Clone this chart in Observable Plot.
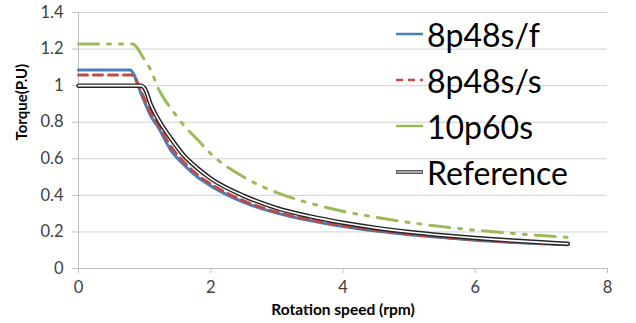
<!DOCTYPE html>
<html>
<head>
<meta charset="utf-8">
<script src="https://cdn.jsdelivr.net/npm/d3@7"></script>
<script src="https://cdn.jsdelivr.net/npm/@observablehq/plot@0.6"></script>
<style>
  body { margin: 0; background: #fff; font-family: Lato, "Open Sans", sans-serif; }
  #wrap { position: relative; width: 636px; height: 323px; }
  #legend { position: absolute; left: 396px; top: 11px; font-family: Lato, sans-serif; font-size: 32px; color: #000; }
  #legend .row { display: flex; align-items: center; height: 46px; }
  #legend svg { margin-right: 3px; }
</style>
</head>
<body>
<div id="wrap">
  <div id="chart"></div>
  <div id="legend"></div>
</div>
<script>
// Speeds (rpm) sampled along the curves
const speedF = [0, 0.78, 0.84, 0.9, 1.0, 1.1, 1.2, 1.4, 1.6, 1.8, 2.0, 2.5, 3.0, 3.5, 4.0, 4.5, 5.0, 5.5, 6.0, 6.5, 7.0, 7.4];
const torque8p48sF = [1.086, 1.086, 1.06, 1.0, 0.91, 0.83, 0.775, 0.645, 0.565, 0.5, 0.452, 0.362, 0.303, 0.262, 0.23, 0.205, 0.185, 0.169, 0.155, 0.144, 0.135, 0.13];

const speedS = [0, 0.8, 0.86, 0.92, 1.0, 1.1, 1.2, 1.4, 1.6, 1.8, 2.0, 2.5, 3.0, 3.5, 4.0, 4.5, 5.0, 5.5, 6.0, 6.5, 7.0, 7.4];
const torque8p48sS = [1.058, 1.058, 1.04, 0.99, 0.925, 0.845, 0.79, 0.665, 0.58, 0.512, 0.462, 0.37, 0.308, 0.266, 0.234, 0.208, 0.188, 0.171, 0.157, 0.146, 0.137, 0.131];

const speed10p = [0, 0.82, 0.88, 0.95, 1.0, 1.1, 1.2, 1.3, 1.4, 1.6, 1.8, 2.0, 2.5, 3.0, 3.5, 4.0, 4.5, 5.0, 5.5, 6.0, 6.5, 7.0, 7.4];
const torque10p60s = [1.228, 1.228, 1.21, 1.17, 1.14, 1.08, 0.99, 0.925, 0.875, 0.78, 0.705, 0.628, 0.5, 0.415, 0.357, 0.313, 0.28, 0.252, 0.229, 0.21, 0.194, 0.18, 0.17];

const speedRef = [0, 0.95, 1.0, 1.1, 1.2, 1.4, 1.6, 1.8, 2.0, 2.5, 3.0, 3.5, 4.0, 4.5, 5.0, 5.5, 6.0, 6.5, 7.0, 7.4];
const torqueRef = [1.0, 1.0, 0.985, 0.89, 0.82, 0.71, 0.615, 0.548, 0.492, 0.397, 0.33, 0.285, 0.25, 0.222, 0.2, 0.182, 0.167, 0.154, 0.143, 0.135];

const yTicks = [0, 0.2, 0.4, 0.6, 0.8, 1, 1.2, 1.4];
const xTicks = [0, 2, 4, 6, 8];
const seriesNames = ["8p48s/f", "8p48s/s", "10p60s", "Reference"];

const toRows = (xs, ys) => xs.map((x, i) => ({x, y: ys[i]}));
const dF = toRows(speedF, torque8p48sF);
const dS = toRows(speedS, torque8p48sS);
const dG = toRows(speed10p, torque10p60s);
const dR = toRows(speedRef, torqueRef);

const blue = "#4a7ebb", red = "#be4b48", green = "#9bbb59";

const chart = Plot.plot({
  width: 636,
  height: 323,
  marginLeft: 78,
  marginRight: 29,
  marginTop: 12,
  marginBottom: 55,
  style: { fontFamily: "Lato, sans-serif", fontSize: "16px", color: "#404040", background: "#fff" },
  x: { domain: [0, 8] },
  y: { domain: [0, 1.4] },
  marks: [
    Plot.gridY(yTicks, { stroke: "#d0d0d0", strokeOpacity: 1 }),
    Plot.ruleX([0], { stroke: "#bfbfbf" }),
    Plot.ruleY([0], { stroke: "#bfbfbf" }),
    Plot.axisY(yTicks, { tickSize: 6, tickPadding: 9, stroke: "#bfbfbf", fill: "#404040", fontSize: 16.5, tickFormat: d => String(+d.toFixed(1)), label: null }),
    Plot.axisX(xTicks, { tickSize: 5, tickPadding: 8, stroke: "#bfbfbf", fill: "#404040", fontSize: 16.5, label: null }),
    Plot.line(dF, { x: "x", y: "y", stroke: blue, strokeWidth: 3, curve: "monotone-x" }),
    Plot.line(dS, { x: "x", y: "y", stroke: red, strokeWidth: 3, strokeDasharray: "9,6", curve: "monotone-x" }),
    Plot.line(dG, { x: "x", y: "y", stroke: green, strokeWidth: 3, strokeDasharray: "20,9,3,9,3,9", curve: "monotone-x" }),
    Plot.line(dR, { x: "x", y: "y", stroke: "#262626", strokeWidth: 4.5, curve: "monotone-x" }),
    Plot.line(dR, { x: "x", y: "y", stroke: "#fff", strokeWidth: 1.6, curve: "monotone-x" }),
    Plot.text(["Rotation speed (rpm)"], { frameAnchor: "bottom", dy: 46, fontWeight: "bold", fontSize: 15.5, fill: "#000" }),
    Plot.text(["Torque(P.U)"], { frameAnchor: "left", dx: -56, rotate: -90, fontWeight: "bold", fontSize: 15, fill: "#000" })
  ]
});
document.getElementById("chart").appendChild(chart);

// Legend
const swatches = [
  `<line x1="0" y1="5" x2="27" y2="5" stroke="${blue}" stroke-width="2.5"/>`,
  `<line x1="0" y1="5" x2="27" y2="5" stroke="${red}" stroke-width="2.5" stroke-dasharray="7,5"/>`,
  `<line x1="0" y1="5" x2="27" y2="5" stroke="${green}" stroke-width="2.5"/>`,
  `<line x1="0" y1="5" x2="27" y2="5" stroke="#262626" stroke-width="3.5"/><line x1="0.5" y1="5" x2="26.5" y2="5" stroke="#fff" stroke-width="1.2"/>`
];
const legend = document.getElementById("legend");
seriesNames.forEach((name, i) => {
  const row = document.createElement("div");
  row.className = "row";
  row.innerHTML = `<svg width="28" height="10">${swatches[i]}</svg><span>${name}</span>`;
  legend.appendChild(row);
});
</script>
</body>
</html>
